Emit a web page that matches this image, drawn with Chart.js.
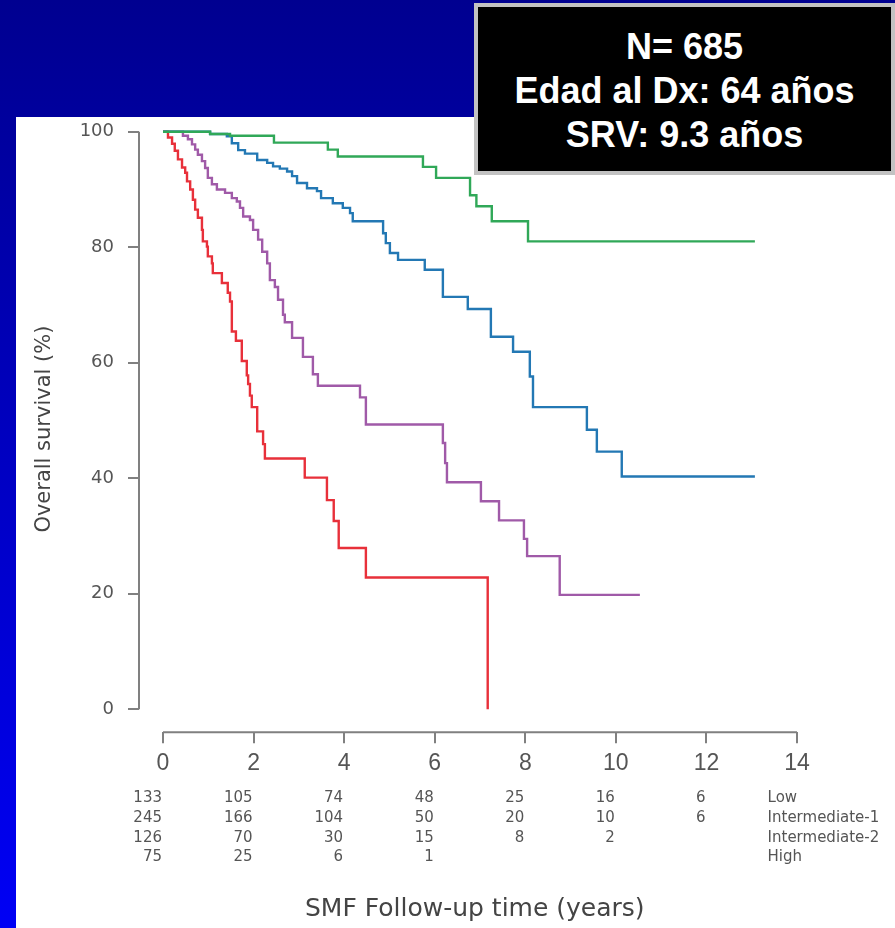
<!DOCTYPE html>
<html>
<head>
<meta charset="utf-8">
<script src="https://cdn.jsdelivr.net/npm/chart.js@4.4.1/dist/chart.umd.min.js"></script>
<style>
html,body{margin:0;padding:0;width:895px;height:928px;overflow:hidden;}
body{position:relative;background:linear-gradient(to bottom,#000090 0%,#0000f5 100%);}
#panel{position:absolute;left:16px;top:117px;width:879px;height:811px;background:#fff;}
#box{position:absolute;left:474px;top:3px;width:421px;height:172px;box-sizing:border-box;background:#000;border:4px solid #c2c2c2;color:#fff;font-family:"Liberation Sans",Arial,sans-serif;font-weight:bold;font-size:36px;line-height:44px;text-align:center;padding-top:18px;}
</style>
</head>
<body>
<div id="panel"><canvas id="c" width="879" height="811"></canvas></div>
<div id="box"></div>
<script>
// ---- data ----
const infoLines = ['N= 685', 'Edad al Dx: 64 años', 'SRV: 9.3 años'];

const groupLabels = ['Low', 'Intermediate-1', 'Intermediate-2', 'High'];
const groupColors = ['#30a858', '#2378b4', '#a05aa8', '#e8303a'];

const lowTimes = [0, 1.04, 1.48, 2.45, 3.64, 3.86, 5.74, 6.03, 6.78, 6.92, 7.26, 8.06, 13.07];
const lowSurv  = [100, 99.6, 99.3, 98.1, 96.9, 95.7, 93.9, 92.0, 89.0, 87.1, 84.5, 81.0, 81.0];

const int1Times = [0, 1.04, 1.41, 1.52, 1.66, 1.81, 2.08, 2.30, 2.43, 2.58, 2.74, 2.85, 2.96, 3.18, 3.40, 3.49, 3.75, 3.97, 4.13, 4.19, 4.86, 4.92, 5.01, 5.19, 5.78, 6.18, 6.73, 7.24, 7.73, 8.10, 8.17, 9.36, 9.58, 10.13, 13.07];
const int1Surv  = [100, 99.6, 99.2, 98.0, 96.8, 96.2, 95.1, 94.6, 94.0, 93.6, 93.1, 92.3, 91.1, 90.2, 89.7, 88.5, 87.6, 86.8, 85.9, 84.5, 82.4, 80.7, 79.0, 77.8, 76.1, 71.4, 69.3, 64.5, 61.9, 57.6, 52.3, 48.4, 44.6, 40.3, 40.3];

const int2Times = [0, 0.44, 0.55, 0.64, 0.71, 0.77, 0.86, 0.93, 0.99, 1.08, 1.19, 1.37, 1.52, 1.63, 1.70, 1.77, 1.92, 1.99, 2.10, 2.19, 2.30, 2.36, 2.47, 2.54, 2.65, 2.69, 2.85, 3.09, 3.31, 3.42, 4.35, 4.48, 6.18, 6.23, 6.27, 7.02, 7.42, 7.97, 8.04, 8.76, 10.53];
const int2Surv  = [100, 99.3, 98.7, 97.8, 96.9, 96.0, 94.9, 93.7, 92.0, 90.9, 90.0, 89.4, 88.5, 87.9, 86.8, 85.3, 84.7, 83.0, 81.3, 79.2, 77.2, 74.3, 73.1, 70.9, 68.3, 67.0, 64.3, 61.0, 58.0, 56.0, 54.0, 49.3, 46.1, 42.6, 39.3, 36.0, 32.7, 29.5, 26.5, 19.8, 19.8];

const highTimes = [0, 0.11, 0.20, 0.26, 0.33, 0.42, 0.49, 0.53, 0.60, 0.66, 0.71, 0.77, 0.86, 0.88, 0.97, 0.99, 1.08, 1.10, 1.30, 1.43, 1.48, 1.52, 1.61, 1.74, 1.85, 1.88, 1.92, 1.96, 2.08, 2.21, 2.25, 3.13, 3.62, 3.77, 3.88, 4.48, 7.17];
const highSurv  = [100, 99.0, 97.9, 96.7, 95.2, 93.8, 92.9, 91.4, 90.0, 88.2, 86.5, 85.1, 83.0, 81.0, 80.1, 78.4, 77.2, 75.5, 73.8, 72.1, 70.6, 65.4, 63.8, 60.3, 57.8, 56.3, 54.3, 52.3, 48.1, 45.9, 43.4, 40.1, 36.2, 32.6, 27.9, 22.8, 0];

const xTicks = [0, 2, 4, 6, 8, 10, 12, 14];
const yTicks = [0, 20, 40, 60, 80, 100];

const riskTimes = [0, 2, 4, 6, 8, 10, 12];
const riskLow  = [133, 105, 74, 48, 25, 16, 6];
const riskInt1 = [245, 166, 104, 50, 20, 10, 6];
const riskInt2 = [126, 70, 30, 15, 8, 2, null];
const riskHigh = [75, 25, 6, 1, null, null, null];

const xTitle = 'SMF Follow-up time (years)';
const yTitle = 'Overall survival (%)';

// ---- build ----
document.getElementById('box').innerHTML = infoLines.join('<br>');

const series = [[lowTimes, lowSurv], [int1Times, int1Surv], [int2Times, int2Surv], [highTimes, highSurv]];
const riskRows = [riskLow, riskInt1, riskInt2, riskHigh];

const AXIS = '#808080';
const TXT = '#555555';

const datasets = series.map((s, i) => ({
  label: groupLabels[i],
  data: s[0].map((t, k) => ({x: t, y: s[1][k]})),
  borderColor: groupColors[i],
  borderWidth: 2.4,
  pointRadius: 0,
  stepped: true,
  fill: false,
  clip: false
}));

const rPlugin = {
  id: 'rstyle',
  afterDraw(chart) {
    const {ctx, chartArea, scales} = chart;
    const x = scales.x, y = scales.y;
    ctx.save();
    ctx.strokeStyle = AXIS;
    ctx.lineWidth = 2;
    ctx.beginPath();
    ctx.moveTo(x.getPixelForValue(xTicks[0]), chartArea.bottom);
    ctx.lineTo(x.getPixelForValue(xTicks[xTicks.length - 1]), chartArea.bottom);
    ctx.moveTo(chartArea.left, y.getPixelForValue(yTicks[0]));
    ctx.lineTo(chartArea.left, y.getPixelForValue(yTicks[yTicks.length - 1]));
    ctx.stroke();

    ctx.fillStyle = TXT;
    ctx.font = '15px "DejaVu Sans", sans-serif';
    ctx.textBaseline = 'middle';
    riskRows.forEach((row, r) => {
      const yy = chartArea.bottom + 66 + r * 19.7;
      ctx.textAlign = 'right';
      row.forEach((v, i) => {
        if (v !== null) ctx.fillText(String(v), x.getPixelForValue(riskTimes[i]) - 1, yy);
      });
      ctx.textAlign = 'left';
      ctx.fillText(groupLabels[r], x.getPixelForValue(13.35), yy);
    });
    ctx.restore();
  }
};

const noPad = (s) => { s.paddingTop = 0; s.paddingBottom = 0; s.paddingLeft = 0; s.paddingRight = 0; };

new Chart(document.getElementById('c'), {
  type: 'line',
  data: {datasets},
  options: {
    responsive: false,
    animation: false,
    devicePixelRatio: 1,
    layout: {padding: {top: 8.9, right: 84.4, bottom: 0, left: 0}},
    plugins: {legend: {display: false}, tooltip: {enabled: false}},
    scales: {
      x: {
        type: 'linear',
        min: -0.53,
        max: 14.3,
        afterBuildTicks: (s) => { s.ticks = xTicks.map(v => ({value: v})); },
        afterFit: (s) => { s.height = 195.7; noPad(s); },
        border: {display: false},
        grid: {display: true, drawOnChartArea: false, drawTicks: true, tickLength: 11, color: AXIS, lineWidth: 2},
        ticks: {padding: 7, color: TXT, font: {family: '"Liberation Sans", Arial, sans-serif', size: 23}, maxRotation: 0, autoSkip: false},
        title: {display: true, text: xTitle, color: '#444', font: {family: '"DejaVu Sans", sans-serif', size: 25}, padding: {top: 0, bottom: 4}}
      },
      y: {
        type: 'linear',
        min: -4,
        max: 101,
        afterBuildTicks: (s) => { s.ticks = yTicks.map(v => ({value: v})); },
        afterFit: (s) => { s.width = 123; noPad(s); },
        border: {display: false},
        grid: {display: true, drawOnChartArea: false, drawTicks: true, tickLength: 11, color: AXIS, lineWidth: 2},
        ticks: {padding: 14, color: TXT, font: {family: '"DejaVu Sans", sans-serif', size: 18}, autoSkip: false},
        title: {display: true, text: yTitle, color: '#444', font: {family: '"DejaVu Sans", sans-serif', size: 21}, padding: {top: 16.4, bottom: 0}}
      }
    }
  },
  plugins: [rPlugin]
});
</script>
</body>
</html>
